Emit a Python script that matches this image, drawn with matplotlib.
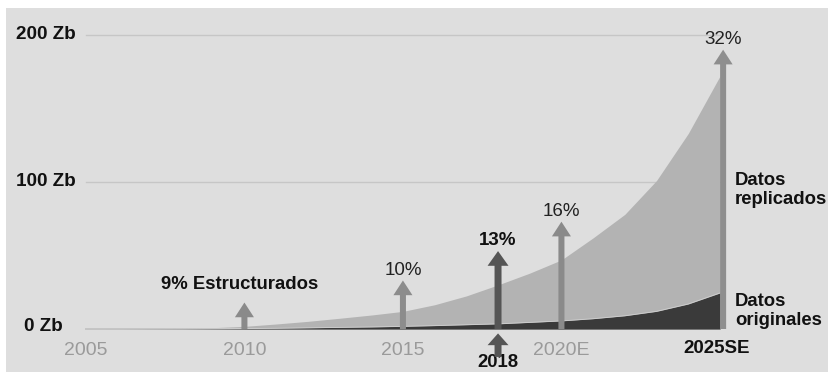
import matplotlib
matplotlib.use("Agg")
import matplotlib.pyplot as plt
from matplotlib.patches import Rectangle

plt.rcParams['font.family'] = ['Liberation Sans', 'DejaVu Sans']

# data (Zb)
years = [2005, 2006, 2007, 2008, 2009, 2010, 2011, 2012, 2013, 2014, 2015,
         2016, 2017, 2018, 2019, 2020, 2021, 2022, 2023, 2024, 2025]
total = [0, 0.1, 0.2, 0.4, 0.9, 1.8, 3.4, 5.2, 7.3, 9.5, 12,
         16.5, 22.5, 30, 38, 47, 62, 78, 101, 133, 172]
original = [0, 0, 0.05, 0.1, 0.2, 0.3, 0.5, 0.8, 1.1, 1.4, 1.8,
            2.3, 2.9, 3.5, 4.5, 5.5, 7, 9, 12, 17, 24.5]

tick_years = [2005, 2010, 2015, 2020]
tick_labels = ['2005', '2010', '2015', '2020E']

arrow_years = [2010, 2015, 2018, 2020, 2025.1]
arrow_tops = [18, 33, 53, 73, 190]
arrow_labels = ['9% Estructurados', '10%', '13%', '16%', '32%']
arrow_colors = ['#8a8a8a', '#8c8c8c', '#555555', '#8a8a8a', '#8e8e8e']

fig = plt.figure(figsize=(8.29, 3.72), dpi=100, facecolor='white')
ax = fig.add_axes([0, 0, 1, 1])
ax.set_xlim(2002.29, 2028.44)
ax.set_ylim(-29.25, 223.8)
ax.axis('off')

ax.add_patch(Rectangle((0.0072, 0), 1, 0.9785, transform=ax.transAxes,
                       facecolor='#dedede', edgecolor='none', zorder=0))

# grid lines
for v in [100, 200]:
    ax.plot([2005, 2025], [v, v], color='#c6c6c6', lw=1, zorder=1)
ax.plot([2005, 2025], [0, 0], color='#b8b8b8', lw=1.2, zorder=1)

ax.fill_between(years, 0, total, color='#b3b3b3', lw=0, zorder=2)
ax.fill_between(years, 0, original, color='#3a3a3a', lw=0, zorder=3)
ax.plot(years, original, color='#cfcfcf', lw=0.6, zorder=3)

# arrows
for i in range(len(arrow_years)):
    w, hw = (0.22, 0.66) if i == 2 else (0.19, 0.6)
    ax.arrow(arrow_years[i], 0, 0, arrow_tops[i], width=w, head_width=hw,
             head_length=10, length_includes_head=True,
             color=arrow_colors[i], lw=0, zorder=4)

ax.text(2009.86, 30, arrow_labels[0], ha='center', va='center',
        fontsize=13.3, fontweight='bold', color='#111111')
ax.text(2015, 40, arrow_labels[1], ha='center', va='center', fontsize=13.5, color='#222222')
ax.text(2018, 60.5, arrow_labels[2], ha='center', va='center', fontsize=13.5,
        fontweight='bold', color='#111111')
ax.text(2020, 80, arrow_labels[3], ha='center', va='center', fontsize=13.5, color='#222222')
ax.text(2025.1, 197, arrow_labels[4], ha='center', va='center', fontsize=13.5, color='#222222')

# 2018 marker below axis
ax.arrow(2018, -19, 0, 16, width=0.22, head_width=0.66, head_length=8,
         length_includes_head=True, color='#555555', lw=0, zorder=4)
ax.text(2018, -22.6, '2018', ha='center', va='center', fontsize=13.3,
        fontweight='bold', color='#111111')

# x tick labels
for yr, lab in zip(tick_years, tick_labels):
    ax.text(yr, -14.3, lab, ha='center', va='center', fontsize=14, color='#9a9a9a')
ax.text(2024.9, -13.6, '2025SE', ha='center', va='center', fontsize=13.5,
        fontweight='bold', color='#111111')

# y labels
ax.text(2004.68, 200, '200 Zb', ha='right', va='center', fontsize=13.6,
        fontweight='bold', color='#111111')
ax.text(2004.68, 100, '100 Zb', ha='right', va='center', fontsize=13.6,
        fontweight='bold', color='#111111')
ax.text(2004.27, 1.5, '0 Zb', ha='right', va='center', fontsize=13.6,
        fontweight='bold', color='#111111')

ax.text(2025.47, 94.5, 'Datos\nreplicados', ha='left', va='center', fontsize=13.3,
        fontweight='bold', color='#111111', linespacing=1.1)
ax.text(2025.47, 12.2, 'Datos\noriginales', ha='left', va='center', fontsize=13.3,
        fontweight='bold', color='#111111', linespacing=1.1)

fig.savefig('out.png', dpi=100)
